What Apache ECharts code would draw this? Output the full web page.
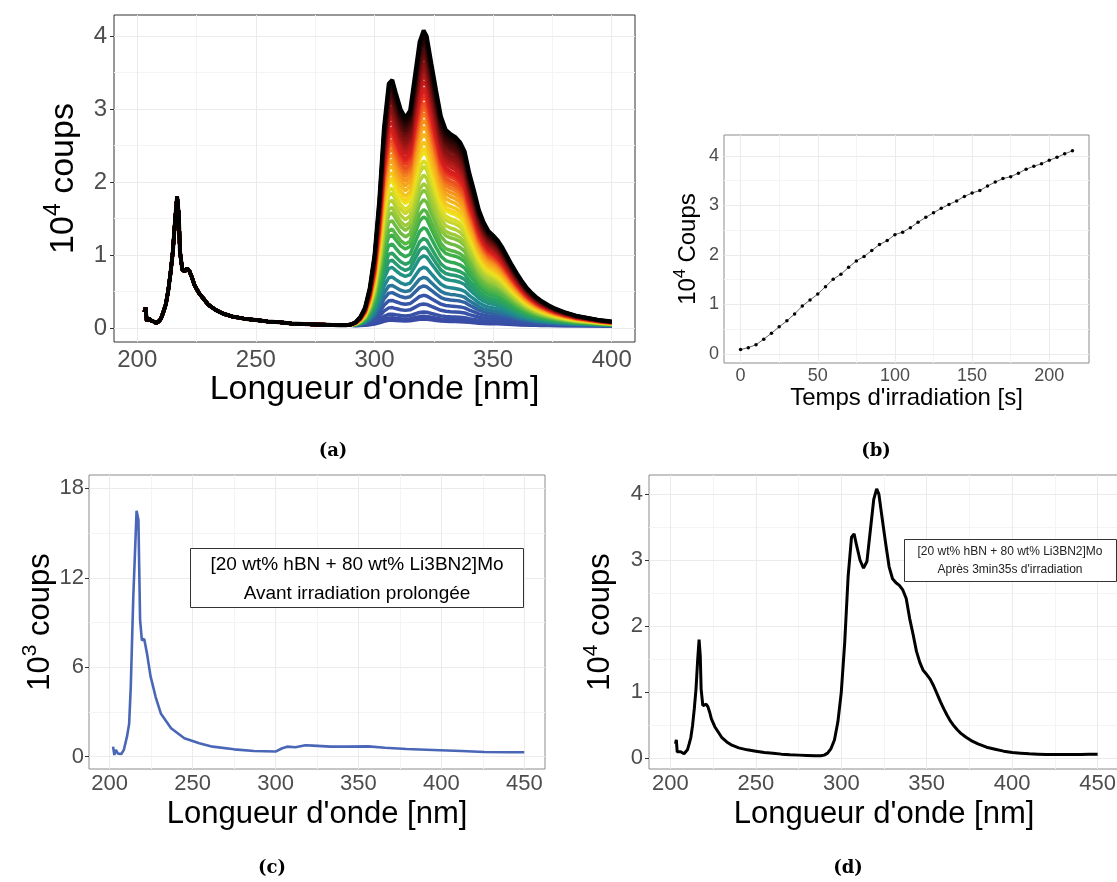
<!DOCTYPE html>
<html>
<head>
<meta charset="utf-8">
<script src="https://cdn.jsdelivr.net/npm/echarts@6/dist/echarts.min.js"></script>
<style>
html,body{margin:0;padding:0;background:#fff;}
#main{width:1117px;height:882px;}
</style>
</head>
<body>
<div id="main"></div>
<script>
// longueurs d'onde (nm) des spectres (a) et (d)
const lambdaNm = [203,203.5,204,205,206,207,208,209,210,211,212,213,214,215,216,216.8,217.5,218,219,220,
  221,222,223,224,226,228,230,233,236,240,245,250,255,260,265,270,275,280,285,288,
  290,292,294,296,298,300,302,304,306,307.5,309,311,313,315,317,319,320.7,322,324,326,
  328,330,332,334,336,338,340,342,344,346,348,350,352,354,356,358,360,362,364,366,
  368,370,373,376,380,385,390,395,400,405,410,415,420,425,430,435,440,445,450];
// partie UV (ne bouge pas pendant l'irradiation), 10^4 coups
const fondUV = [0.22,0.28,0.10,0.13,0.10,0.09,0.07,0.09,0.13,0.22,0.32,0.50,0.75,1.05,1.50,1.80,1.55,1.05,0.80,0.78,
  0.82,0.78,0.70,0.60,0.48,0.40,0.32,0.25,0.20,0.16,0.13,0.11,0.09,0.08,0.065,0.055,0.05,0.045,0.04,0.04,
  0.04,0.035,0.035,0.035,0.035,0.035,0.035,0.035,0.035,0.035,0.035,0.035,0.035,0.035,0.035,0.035,0.035,0.035,0.035,0.035,
  0.035,0.035,0.033,0.033,0.033,0.033,0.033,0.033,0.033,0.033,0.033,0.033,0.033,0.033,0.033,0.033,0.03,0.03,0.03,0.03,
  0.03,0.03,0.03,0.03,0.03,0.03,0.03,0.03,0.025,0.025,0.025,0.025,0.025,0.025,0.025,0.025,0.025,0.02,0.02];
// spectre apres 3min35s d'irradiation, 10^4 coups
const spectreFinal = [0.22,0.28,0.10,0.13,0.10,0.09,0.07,0.09,0.13,0.22,0.32,0.50,0.75,1.05,1.50,1.80,1.55,1.05,0.80,0.78,
  0.82,0.78,0.70,0.60,0.48,0.40,0.32,0.25,0.20,0.16,0.13,0.11,0.09,0.08,0.065,0.055,0.05,0.045,0.04,0.04,
  0.05,0.08,0.15,0.28,0.55,1.00,1.75,2.75,3.35,3.40,3.22,3.00,2.88,2.98,3.45,3.92,4.08,4.00,3.62,3.25,
  2.90,2.72,2.66,2.62,2.55,2.42,2.12,1.88,1.62,1.45,1.33,1.27,1.20,1.10,0.98,0.86,0.75,0.65,0.56,0.49,
  0.43,0.38,0.32,0.27,0.22,0.17,0.14,0.11,0.09,0.08,0.07,0.065,0.06,0.06,0.06,0.06,0.06,0.065,0.065];

// (b) intensite au maximum en fonction du temps
const tempsIrr = [0,5,10,15,20,25,30,35,40,45,50,55,60,65,70,75,80,85,90,95,100,105,
  110,115,120,125,130,135,140,145,150,155,160,165,170,175,180,185,190,195,200,205,210,215];
const intensite = [0.09,0.13,0.19,0.30,0.42,0.55,0.67,0.81,0.97,1.09,1.21,1.36,1.51,1.61,1.75,1.88,1.97,2.09,2.21,2.29,2.41,2.46,
  2.55,2.66,2.76,2.85,2.94,3.02,3.09,3.18,3.25,3.30,3.39,3.47,3.54,3.58,3.65,3.73,3.79,3.84,3.91,3.97,4.04,4.10];

// (c) avant irradiation prolongee, 10^3 coups
const lambdaAvant = [202,202.8,203.7,205,207,208.5,210.4,211.7,212.7,214.2,215.2,216.2,217.3,218.3,219.4,220.8,222.5,224.6,227.7,230.8,
  237,245,254,262,275,287,300,304,307,312,318,322.5,333,343,356,366,379,395,412,426,441,450];
const coupsAvant = [0.67,0.11,0.45,0.2,0.18,0.45,1.34,2.2,4.7,10.7,13.6,16.5,15.9,9.2,7.8,7.9,6.9,5.4,4.0,2.9,
  1.9,1.23,0.9,0.67,0.49,0.38,0.34,0.56,0.67,0.63,0.76,0.74,0.67,0.67,0.69,0.6,0.51,0.45,0.38,0.31,0.29,0.29];

// graduations
const ticksXa = [200,250,300,350,400], minXa = [225,275,325,375];
const ticksY4 = [0,1,2,3,4], minY4 = [0.5,1.5,2.5,3.5];
const ticksXb = [0,50,100,150,200], minXb = [25,75,125,175];
const ticksXcd = [200,250,300,350,400,450], minXcd = [225,275,325,375,425];
const ticksYc = [0,6,12,18], minYc = [3,9,15];

const police = 'Liberation Sans';
const gris = '#4d4d4d';

const rampe = [[0,'#3a4aa5'],[0.1,'#3656a8'],[0.17,'#1f8e8e'],[0.27,'#34ad4b'],[0.38,'#a6cd39'],
  [0.47,'#f2e41c'],[0.58,'#f7941d'],[0.7,'#e3211f'],[0.85,'#7a1010'],[1,'#000000']];
function couleur(t){
  for (let k = 1; k < rampe.length; k++) {
    if (t <= rampe[k][0]) {
      return echarts.color.lerp((t - rampe[k-1][0]) / (rampe[k][0] - rampe[k-1][0]), [rampe[k-1][1], rampe[k][1]]);
    }
  }
  return '#000';
}

function grille(xMaj, xMin, yMaj, yMin){
  const maj = {color:'#ebebeb', width:1, type:'solid'};
  const mn = {color:'#f4f4f4', width:1, type:'solid'};
  return {
    silent:true, symbol:['none','none'], label:{show:false}, animation:false, z:1,
    data: [].concat(
      xMin.map(v => ({xAxis:v, lineStyle:mn})),
      yMin.map(v => ({yAxis:v, lineStyle:mn})),
      xMaj.map(v => ({xAxis:v, lineStyle:maj})),
      yMaj.map(v => ({yAxis:v, lineStyle:maj})))
  };
}

function axeX(g, min, max, ticks, taille, marge, nom, tailleNom, ecart){
  return {type:'value', gridIndex:g, min:min, max:max, position:'bottom',
    axisLine:{show:false},
    axisTick:{show:true, customValues:ticks, length:4, lineStyle:{color:'#333', width:1}},
    axisLabel:{customValues:ticks, color:gris, fontSize:taille, margin:marge, fontFamily:police},
    splitLine:{show:false},
    name:nom, nameLocation:'middle', nameGap:ecart,
    nameTextStyle:{color:'#000', fontSize:tailleNom, fontFamily:police}};
}
function axeY(g, min, max, ticks, taille, marge, nom, tailleNom, ecart){
  return {type:'value', gridIndex:g, min:min, max:max, position:'left',
    axisLine:{show:false},
    axisTick:{show:true, customValues:ticks, length:4, lineStyle:{color:'#333', width:1}},
    axisLabel:{customValues:ticks, color:gris, fontSize:taille, margin:marge, fontFamily:police},
    splitLine:{show:false},
    name:nom, nameLocation:'middle', nameGap:ecart,
    nameTextStyle:{color:'#000', fontFamily:police, rich:{
      n:{fontSize:tailleNom, color:'#000', fontFamily:police, lineHeight:tailleNom*1.3},
      s:{fontSize:Math.round(tailleNom*0.68), color:'#000', fontFamily:police, verticalAlign:'top', lineHeight:tailleNom*0.7}
    }}};
}

const imax = intensite[intensite.length - 1];
const seriesA = intensite.map(function(c, i){
  const r = c / imax;
  const pts = [];
  lambdaNm.forEach(function(w, j){
    if (w <= 400) pts.push([w, fondUV[j] + (spectreFinal[j] - fondUV[j]) * r]);
  });
  return {type:'line', xAxisIndex:0, yAxisIndex:0, data:pts, symbol:'none', silent:true,
    lineStyle:{color:couleur(i / (intensite.length - 1)), width: i === intensite.length - 1 ? 4 : 3.5}, z:2};
});
seriesA[0].markLine = grille(ticksXa, minXa, ticksY4, minY4);

const cadre = function(l, t, w, h, col){
  return {left:l, top:t, width:w, height:h, show:true, borderColor:col, borderWidth:1,
    backgroundColor:'#fff', containLabel:false, outerBoundsMode:'none'};
};

const option = {
  animation:false,
  textStyle:{fontFamily:police},
  grid:[
    cadre(114, 15, 521, 327, '#333'),
    cadre(724, 135, 365, 228, '#8c8c8c'),
    cadre(89, 475, 456, 294, '#8c8c8c'),
    cadre(649, 475, 470, 294, '#8c8c8c')
  ],
  xAxis:[
    axeX(0, 190.2, 409.8, ticksXa, 24, 6, "Longueur d'onde [nm]", 34, 30),
    axeX(1, -10.75, 225.75, ticksXb, 18, 4, "Temps d'irradiation [s]", 24, 23),
    axeX(2, 187.5, 462.5, ticksXcd, 22, 4, "Longueur d'onde [nm]", 31, 30),
    axeX(3, 187.5, 462.5, ticksXcd, 22, 4, "Longueur d'onde [nm]", 31, 30)
  ],
  yAxis:[
    axeY(0, -0.19, 4.29, ticksY4, 24, 7, '{n|10}{s|4}{n| coups}', 34, 28),
    axeY(1, -0.18, 4.42, ticksY4, 18, 5, '{n|10}{s|4}{n| Coups}', 24, 20),
    axeY(2, -0.83, 18.9, ticksYc, 22, 5, '{n|10}{s|3}{n| coups}', 31, 28),
    axeY(3, -0.16, 4.29, ticksY4, 22, 6, '{n|10}{s|4}{n| coups}', 31, 28)
  ],
  series: seriesA.concat([
    {type:'line', xAxisIndex:1, yAxisIndex:1, data:tempsIrr.map((t, i) => [t, intensite[i]]),
      symbol:'circle', symbolSize:3.5, itemStyle:{color:'#000'}, lineStyle:{color:'#222', width:0.7},
      markLine:grille(ticksXb, minXb, ticksY4, minY4), z:2},
    {type:'line', xAxisIndex:2, yAxisIndex:2, data:lambdaAvant.map((w, i) => [w, coupsAvant[i]]),
      symbol:'none', lineStyle:{color:'#4a67b7', width:2.6},
      markLine:grille(ticksXcd, minXcd, ticksYc, minYc), z:2},
    {type:'line', xAxisIndex:3, yAxisIndex:3, data:lambdaNm.map((w, i) => [w, spectreFinal[i]]),
      symbol:'none', lineStyle:{color:'#000', width:3},
      markLine:grille(ticksXcd, minXcd, ticksY4, minY4), z:2}
  ]),
  graphic:[
    {type:'text', x:333, y:451, style:{text:'(a)', font:'bold 18px "DejaVu Serif"', fill:'#000', align:'center', verticalAlign:'middle'}},
    {type:'text', x:876, y:451, style:{text:'(b)', font:'bold 18px "DejaVu Serif"', fill:'#000', align:'center', verticalAlign:'middle'}},
    {type:'text', x:272, y:868, style:{text:'(c)', font:'bold 18px "DejaVu Serif"', fill:'#000', align:'center', verticalAlign:'middle'}},
    {type:'text', x:848, y:868, style:{text:'(d)', font:'bold 18px "DejaVu Serif"', fill:'#000', align:'center', verticalAlign:'middle'}},
    {type:'rect', shape:{x:190.5, y:548.5, width:333, height:59}, style:{fill:'#fff', stroke:'#333', lineWidth:1}, z:10},
    {type:'text', x:357, y:579, z:11, style:{text:'[20 wt% hBN + 80 wt% Li3BN2]Mo\nAvant irradiation prolongée',
      font:'19px "Liberation Sans"', fill:'#000', align:'center', verticalAlign:'middle', lineHeight:29}},
    {type:'rect', shape:{x:904.5, y:539.5, width:212, height:42}, style:{fill:'#fff', stroke:'#333', lineWidth:1}, z:10},
    {type:'text', x:1010, y:561, z:11, style:{text:"[20 wt% hBN + 80 wt% Li3BN2]Mo\nAprès 3min35s d'irradiation",
      font:'12px "Liberation Sans"', fill:'#222', align:'center', verticalAlign:'middle', lineHeight:18}}
  ]
};

const chart = echarts.init(document.getElementById('main'));
chart.setOption(option);
</script>
</body>
</html>
